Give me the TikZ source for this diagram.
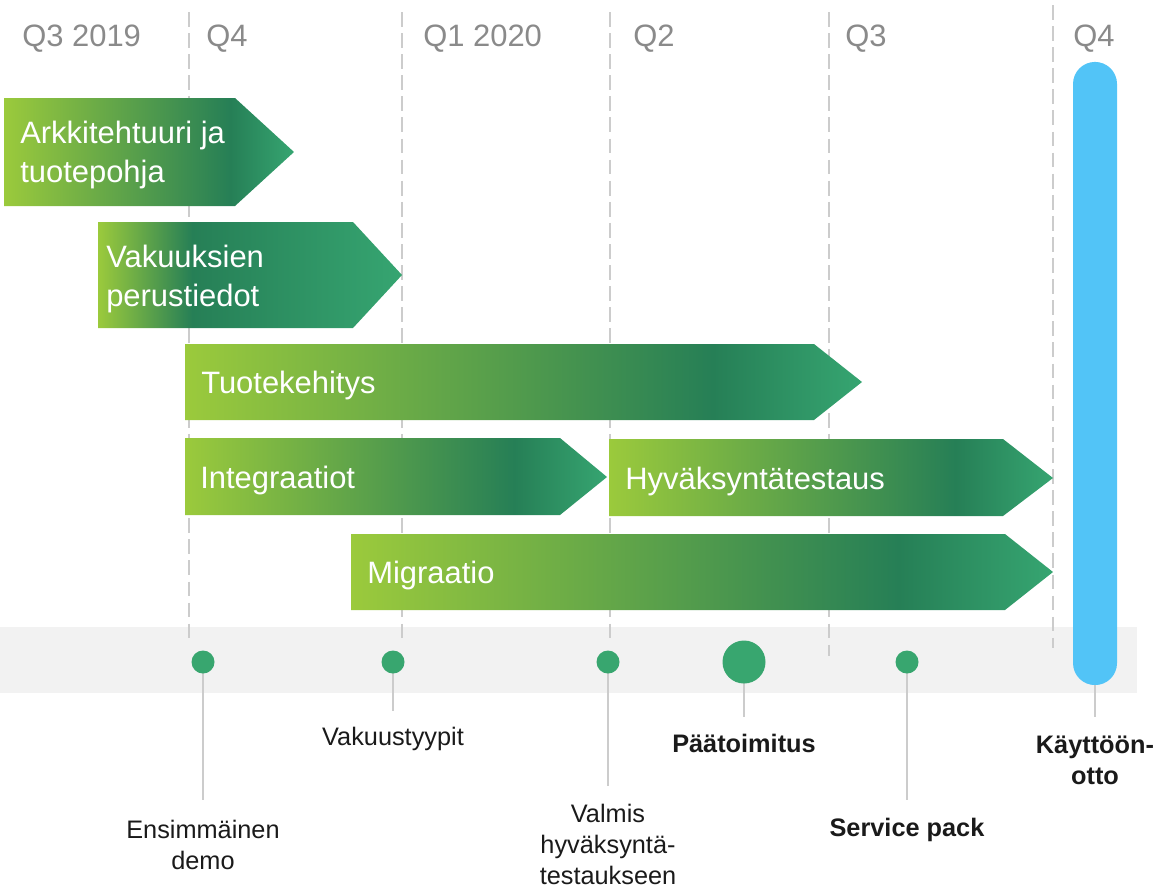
\documentclass[tikz,border=0pt]{standalone}
\usepackage{fontspec}
\setmainfont{Liberation Sans}
\usetikzlibrary{shapes}

\definecolor{barlight}{RGB}{155,202,60}
\definecolor{bardark}{RGB}{38,127,86}
\definecolor{barend}{RGB}{54,165,113}
\definecolor{msgreen}{RGB}{56,166,111}
\definecolor{bandgray}{RGB}{242,242,242}
\definecolor{pillblue}{RGB}{82,196,247}
\definecolor{qgray}{RGB}{138,138,138}
\definecolor{labelblack}{RGB}{26,26,26}

\pgfdeclarehorizontalshading{barshade}{100bp}{color(0bp)=(barlight); color(25bp)=(barlight); color(64bp)=(bardark); color(75bp)=(barend); color(100bp)=(barend)}
\pgfdeclarehorizontalshading{barshadeearly}{100bp}{color(0bp)=(barlight); color(25bp)=(barlight); color(40.5bp)=(bardark); color(75bp)=(barend); color(100bp)=(barend)}

\begin{document}
\begin{tikzpicture}[x=0.025cm, y=-0.025cm]
\tikzstyle{quarter}=[anchor=base west, inner sep=0pt, text=qgray, font=\fontsize{22}{26}\selectfont]
\tikzstyle{qline}=[draw=gray!40, line width=1.1pt, dash pattern=on 10.5pt off 4.5pt]
\tikzstyle{bar}=[shading=barshade]
\tikzstyle{bartext}=[inner sep=0pt, text=white, align=left, font=\fontsize{22}{27.5}\selectfont]
\tikzstyle{milestone}=[circle, fill=msgreen, minimum size=0.575cm, inner sep=0pt]
\tikzstyle{bigmilestone}=[milestone, minimum size=1.075cm]
\tikzstyle{golive}=[rectangle, fill=pillblue, rounded corners=0.55cm, minimum width=1.1cm, minimum height=15.575cm, inner sep=0pt]
\tikzstyle{stem}=[draw=gray!40, line width=1pt]
\tikzstyle{mslabel}=[anchor=north, inner sep=0pt, align=center, text=labelblack, font=\fontsize{18}{22}\selectfont]
\tikzstyle{msbold}=[mslabel, font=\fontsize{18}{22}\selectfont\bfseries]

\useasboundingbox (0,0) rectangle (1161,888);

% band behind the milestones
\fill[bandgray] (0,627) rectangle (1137,693);

% quarter borders
\draw[qline] (189,12) -- (189,641);
\draw[qline] (402,12) -- (402,642);
\draw[qline] (610,12) -- (610,644);
\draw[qline] (829,12) -- (829,656);
\draw[qline] (1053,5) -- (1053,648);

\node[quarter] (Q3a) at (22,46) {Q3 2019};
\node[quarter] (Q4a) at (206,46) {Q4};
\node[quarter] (Q1b) at (423,46) {Q1 2020};
\node[quarter] (Q2b) at (633,46) {Q2};
\node[quarter] (Q3b) at (845,46) {Q3};
\node[quarter] (Q4b) at (1073,46) {Q4};

% phases
\shade[bar] (4,98) -- (235,98) -- (294,152) -- (235,206) -- (4,206) -- cycle;
\node[bartext, anchor=north west] (Arch) at (20,121) {Arkkitehtuuri ja\\tuotepohja};
\shade[bar, shading=barshadeearly] (98,222) -- (353,222) -- (402,275) -- (353,328) -- (98,328) -- cycle;
\node[bartext, anchor=north west] (Basic) at (106,245) {Vakuuksien\\perustiedot};
\shade[bar] (185,344) -- (814,344) -- (862,382) -- (814,420) -- (185,420) -- cycle;
\node[bartext, anchor=base west] (Dev) at (201,393) {Tuotekehitys};
\shade[bar] (185,438) -- (560,438) -- (607,477) -- (560,515) -- (185,515) -- cycle;
\node[bartext, anchor=base west] (Integ) at (200,488) {Integraatiot};
\shade[bar] (609,439) -- (1003,439) -- (1053,478) -- (1003,516) -- (609,516) -- cycle;
\node[bartext, anchor=base west] (Accept) at (625,489) {Hyväksyntätestaus};
\shade[bar] (351,534) -- (1005,534) -- (1053,572) -- (1005,610) -- (351,610) -- cycle;
\node[bartext, anchor=base west] (Migr) at (367,583) {Migraatio};

% milestones
\coordinate (E1) at (203,800);
\coordinate (E2) at (393,711);
\coordinate (E3) at (608,786);
\coordinate (E4) at (744,717);
\coordinate (E5) at (907,800);
\coordinate (E6) at (1095,717);
\draw[stem] (203,662) -- (E1);
\draw[stem] (393,662) -- (E2);
\draw[stem] (608,662) -- (E3);
\draw[stem] (744,662) -- (E4);
\draw[stem] (907,662) -- (E5);
\node[milestone] (M1) at (203,662) {};
\node[milestone] (M2) at (393,662) {};
\node[milestone] (M3) at (608,662) {};
\node[bigmilestone] (M4) at (744,662) {};
\node[milestone] (M5) at (907,662) {};
\node[golive] (GoLive) at (1095,373.5) {};
\draw[stem] (GoLive) -- (E6);

\node[mslabel] (L1) at (203,820) {Ensimmäinen\\demo};
\node[mslabel] (L2) at (393,727) {Vakuustyypit};
\node[mslabel] (L3) at (608,804) {Valmis\\hyväksyntä-\\testaukseen};
\node[msbold] (L4) at (744,734) {Päätoimitus};
\node[msbold] (L5) at (907,818) {Service pack};
\node[msbold] (L6) at (1095,736) {Käyttöön-\\otto};
\end{tikzpicture}
\end{document}
